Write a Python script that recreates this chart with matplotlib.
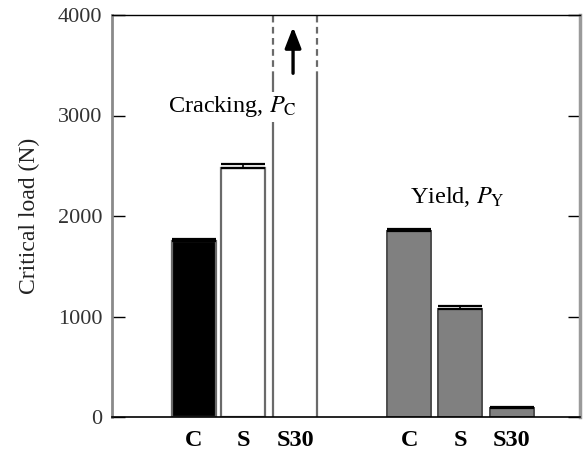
import matplotlib; matplotlib.use("Agg")
import matplotlib.pyplot as plt
import numpy as np

# data (N)
labels = ["C", "S", "S30"]
crack_load = [1755, 2475, 4000]      # S30 did not crack: drawn as off-scale bar
crack_err = [12, 45, 0]
crack_break = 3370                   # S30 bar turns dashed above this load
yield_load = [1855, 1075, 85]
yield_err = [12, 25, 12]

plt.rcParams["font.family"] = ["Liberation Serif", "DejaVu Serif"]
plt.rcParams["mathtext.fontset"] = "stix"

pos_c = np.array([1.0, 1.97, 3.0])
pos_y = np.array([5.26, 6.27, 7.29])
w = 0.87
edge = "#6a6a6a"

fig = plt.figure(figsize=(5.84, 4.51), dpi=100)
ax = fig.add_axes([112 / 584, 1 - 417 / 451, 468 / 584, 402 / 451])

# cracking group
bars = ax.bar(pos_c[:2], crack_load[:2], w, color=["black", "white"], edgecolor=edge, lw=1.6, zorder=2)
ax.errorbar(pos_c[:2], crack_load[:2], yerr=[[0, 0], crack_err[:2]], fmt="none", ecolor="black",
            elinewidth=1.2, capsize=15.5, capthick=1.6, zorder=3)
s30 = ax.bar(pos_c[2], crack_load[2], w, color="white", lw=0, zorder=1)[0]
for xe in (s30.get_x(), s30.get_x() + s30.get_width()):
    ax.vlines(xe, 0, crack_break, color=edge, lw=1.6, zorder=2)
    ax.vlines(xe, crack_break, crack_load[2], color=edge, lw=1.6, linestyles=(0, (3, 2)), zorder=2)
ax.annotate("", xy=(pos_c[2] - 0.04, 3880), xytext=(pos_c[2] - 0.04, 3420),
            arrowprops=dict(arrowstyle="-|>,head_length=0.9,head_width=0.35", lw=2.4, color="black",
                            mutation_scale=14, shrinkA=0, shrinkB=0), zorder=4)

# yield group
ax.bar(pos_y, yield_load, w, color="#808080", edgecolor="#4d4d4d", lw=1.4, zorder=2)
ax.errorbar(pos_y, yield_load, yerr=[[0, 0, 0], yield_err], fmt="none", ecolor="black",
            elinewidth=1.2, capsize=15.5, capthick=1.6, zorder=3)

ax.text(0.48, 3085, r"Cracking, $P_{\mathrm{C}}$", fontsize=17.5, ha="left", va="center", zorder=5,
        bbox=dict(fc="white", ec="none", pad=1.5))
ax.text(5.28, 2190, r"Yield, $P_{\mathrm{Y}}$", fontsize=17.5, ha="left", va="center", zorder=5)

ax.set_xlim(-0.624, 8.64)
ax.set_ylim(0, 4000)
ax.set_yticks([0, 1000, 2000, 3000, 4000])
ax.set_xticks(list(pos_c) + list(pos_y))
ax.set_xticklabels(labels + labels, fontsize=17.5, fontweight="bold")
ax.tick_params(axis="y", direction="in", length=9, width=1, left=True, right=True, labelsize=16,
               pad=7, labelcolor="#333333")
ax.tick_params(axis="x", length=0, pad=9)
ax.set_ylabel("Critical load (N)", fontsize=17, labelpad=13, color="#222222")

ax.spines["left"].set_color("#8a8a8a"); ax.spines["left"].set_linewidth(2)
ax.spines["right"].set_color("#9a9a9a"); ax.spines["right"].set_linewidth(2.5)
ax.spines["top"].set_color("black"); ax.spines["top"].set_linewidth(1)
ax.spines["bottom"].set_color("black"); ax.spines["bottom"].set_linewidth(1.2)

fig.savefig("out.png", dpi=100)
